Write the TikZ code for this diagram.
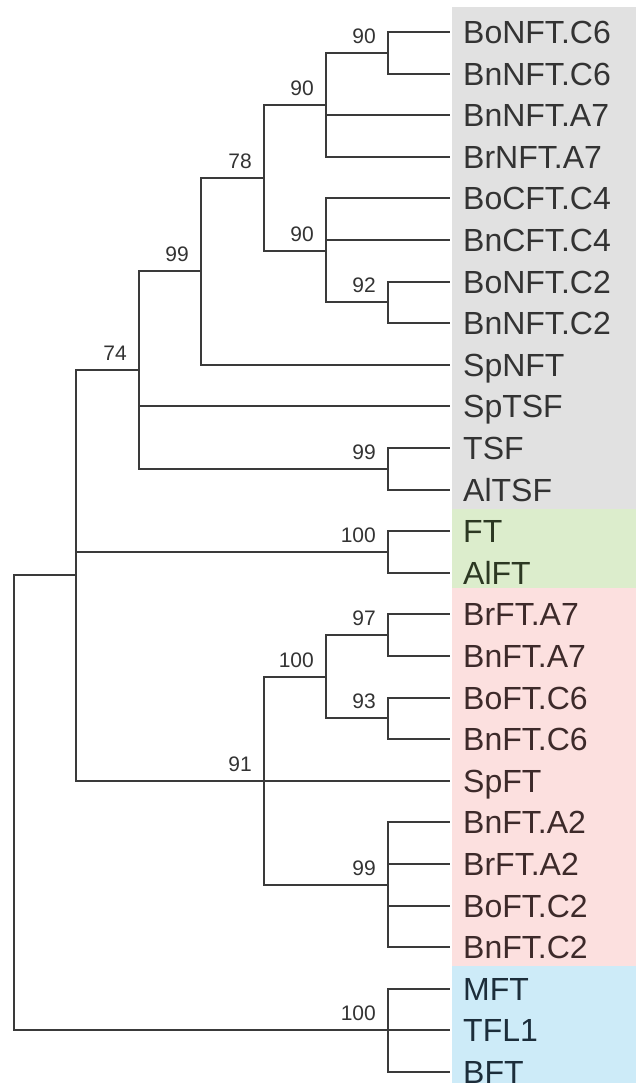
\documentclass[tikz,border=0pt]{standalone}
\usepackage{fontspec}
\setmainfont{Liberation Sans}
\definecolor{branchc}{HTML}{3A3A3A}
\definecolor{labelc}{HTML}{333333}
\definecolor{grayband}{HTML}{E1E1E1}
\definecolor{greenband}{HTML}{DCEDCC}
\definecolor{pinkband}{HTML}{FCE0DF}
\definecolor{blueband}{HTML}{CDEBF8}
\definecolor{graytxt}{HTML}{333333}
\definecolor{greentxt}{HTML}{2C3822}
\definecolor{pinktxt}{HTML}{3D2A2A}
\definecolor{bluetxt}{HTML}{1C2D3A}
\begin{document}
\begin{tikzpicture}[x=1pt,y=-1pt,
  branch/.style={draw=branchc, line width=2pt},
  leaf/.style={anchor=west, inner xsep=13pt, inner ysep=0pt,
    text height=23pt, text depth=0pt, font=\fontsize{32}{36}\selectfont},
  support/.style={anchor=south east, inner sep=0pt,
    text height=15pt, text depth=0pt, font=\fontsize{21}{24}\selectfont, text=labelc}]
\useasboundingbox (0,0) rectangle (636,1083);

% clade bands behind the leaf names
\fill[grayband]  (452,7)   rectangle (636,509);
\fill[greenband] (452,509) rectangle (636,588);
\fill[pinkband]  (452,588) rectangle (636,966);
\fill[blueband]  (452,966) rectangle (636,1083);

% leaves
\node[leaf, text=graytxt] (boNFTc6) at (450,32.0)   {BoNFT.C6};
\node[leaf, text=graytxt] (bnNFTc6) at (450,73.6)   {BnNFT.C6};
\node[leaf, text=graytxt] (bnNFTa7) at (450,115.2)  {BnNFT.A7};
\node[leaf, text=graytxt] (brNFTa7) at (450,156.8)  {BrNFT.A7};
\node[leaf, text=graytxt] (boCFTc4) at (450,198.4)  {BoCFT.C4};
\node[leaf, text=graytxt] (bnCFTc4) at (450,240.0)  {BnCFT.C4};
\node[leaf, text=graytxt] (boNFTc2) at (450,281.6)  {BoNFT.C2};
\node[leaf, text=graytxt] (bnNFTc2) at (450,323.2)  {BnNFT.C2};
\node[leaf, text=graytxt] (spNFT)   at (450,364.8)  {SpNFT};
\node[leaf, text=graytxt] (spTSF)   at (450,406.4)  {SpTSF};
\node[leaf, text=graytxt] (tsf)     at (450,448.0)  {TSF};
\node[leaf, text=graytxt] (alTSF)   at (450,489.6)  {AlTSF};
\node[leaf, text=greentxt] (ft)     at (450,531.2)  {FT};
\node[leaf, text=greentxt] (alFT)   at (450,572.8)  {AlFT};
\node[leaf, text=pinktxt] (brFTa7)  at (450,614.4)  {BrFT.A7};
\node[leaf, text=pinktxt] (bnFTa7)  at (450,656.0)  {BnFT.A7};
\node[leaf, text=pinktxt] (boFTc6)  at (450,697.6)  {BoFT.C6};
\node[leaf, text=pinktxt] (bnFTc6)  at (450,739.2)  {BnFT.C6};
\node[leaf, text=pinktxt] (spFT)    at (450,780.8)  {SpFT};
\node[leaf, text=pinktxt] (bnFTa2)  at (450,822.4)  {BnFT.A2};
\node[leaf, text=pinktxt] (brFTa2)  at (450,864.0)  {BrFT.A2};
\node[leaf, text=pinktxt] (boFTc2)  at (450,905.6)  {BoFT.C2};
\node[leaf, text=pinktxt] (bnFTc2)  at (450,947.2)  {BnFT.C2};
\node[leaf, text=bluetxt] (mft)     at (450,988.8)  {MFT};
\node[leaf, text=bluetxt] (tfl)     at (450,1030.4) {TFL1};
\node[leaf, text=bluetxt] (bft)     at (450,1072.0) {BFT};

% internal nodes
\coordinate (nC6)   at (388,52.8);
\coordinate (nA7)   at (326,104.8);
\coordinate (nC2)   at (388,302.4);
\coordinate (nC4)   at (326,250.8);
\coordinate (n78)   at (264,177.8);
\coordinate (nSp)   at (201,271.3);
\coordinate (nTSF)  at (388,468.8);
\coordinate (n74)   at (139,370.0);
\coordinate (nFT)   at (388,552.0);
\coordinate (nFA7)  at (388,635.2);
\coordinate (nFC6)  at (388,718.4);
\coordinate (nF100) at (326,676.8);
\coordinate (nF99)  at (388,884.8);
\coordinate (n91)   at (264,780.8);
\coordinate (nIn)   at (76,575.4);
\coordinate (nTFL)  at (388,1030.4);
\coordinate (root)  at (14,803.0);

% branches
\draw[branch] (nC6) |- (boNFTc6.west);
\draw[branch] (nC6) |- (bnNFTc6.west);
\draw[branch] (nA7) |- (nC6);
\draw[branch] (nA7) |- (bnNFTa7.west);
\draw[branch] (nA7) |- (brNFTa7.west);
\draw[branch] (nC2) |- (boNFTc2.west);
\draw[branch] (nC2) |- (bnNFTc2.west);
\draw[branch] (nC4) |- (boCFTc4.west);
\draw[branch] (nC4) |- (bnCFTc4.west);
\draw[branch] (nC4) |- (nC2);
\draw[branch] (n78) |- (nA7);
\draw[branch] (n78) |- (nC4);
\draw[branch] (nSp) |- (n78);
\draw[branch] (nSp) |- (spNFT.west);
\draw[branch] (nTSF) |- (tsf.west);
\draw[branch] (nTSF) |- (alTSF.west);
\draw[branch] (n74) |- (nSp);
\draw[branch] (n74) |- (spTSF.west);
\draw[branch] (n74) |- (nTSF);
\draw[branch] (nFT) |- (ft.west);
\draw[branch] (nFT) |- (alFT.west);
\draw[branch] (nFA7) |- (brFTa7.west);
\draw[branch] (nFA7) |- (bnFTa7.west);
\draw[branch] (nFC6) |- (boFTc6.west);
\draw[branch] (nFC6) |- (bnFTc6.west);
\draw[branch] (nF100) |- (nFA7);
\draw[branch] (nF100) |- (nFC6);
\draw[branch] (nF99) |- (bnFTa2.west);
\draw[branch] (nF99) |- (brFTa2.west);
\draw[branch] (nF99) |- (boFTc2.west);
\draw[branch] (nF99) |- (bnFTc2.west);
\draw[branch] (n91) |- (nF100);
\draw[branch] (n91) |- (nF99);
\draw[branch] (nIn) |- (n74);
\draw[branch] (nIn) |- (nFT);
\draw[branch] (nIn) |- (n91);
\draw[branch] (nIn) |- (spFT.west);
\draw[branch] (nTFL) |- (mft.west);
\draw[branch] (nTFL) -- (tfl.west);
\draw[branch] (nTFL) |- (bft.west);
\draw[branch] (root) |- (nIn);
\draw[branch] (root) |- (nTFL);

% bootstrap support values
\node[support] (sC6)   at ([xshift=-12pt,yshift=9.5pt]nC6)   {90};
\node[support] (sA7)   at ([xshift=-12pt,yshift=9.5pt]nA7)   {90};
\node[support] (sC2)   at ([xshift=-12pt,yshift=9.5pt]nC2)   {92};
\node[support] (sC4)   at ([xshift=-12pt,yshift=9.5pt]nC4)   {90};
\node[support] (s78)   at ([xshift=-12pt,yshift=9.5pt]n78)   {78};
\node[support] (sSp)   at ([xshift=-12pt,yshift=9.5pt]nSp)   {99};
\node[support] (sTSF)  at ([xshift=-12pt,yshift=9.5pt]nTSF)  {99};
\node[support] (s74)   at ([xshift=-12pt,yshift=9.5pt]n74)   {74};
\node[support] (sFT)   at ([xshift=-12pt,yshift=9.5pt]nFT)   {100};
\node[support] (sFA7)  at ([xshift=-12pt,yshift=9.5pt]nFA7)  {97};
\node[support] (sFC6)  at ([xshift=-12pt,yshift=9.5pt]nFC6)  {93};
\node[support] (sF100) at ([xshift=-12pt,yshift=9.5pt]nF100) {100};
\node[support] (sF99)  at ([xshift=-12pt,yshift=9.5pt]nF99)  {99};
\node[support] (s91)   at ([xshift=-12pt,yshift=9.5pt]n91)   {91};
\node[support] (sTFL)  at ([xshift=-12pt,yshift=9.5pt]nTFL)  {100};
\end{tikzpicture}
\end{document}
